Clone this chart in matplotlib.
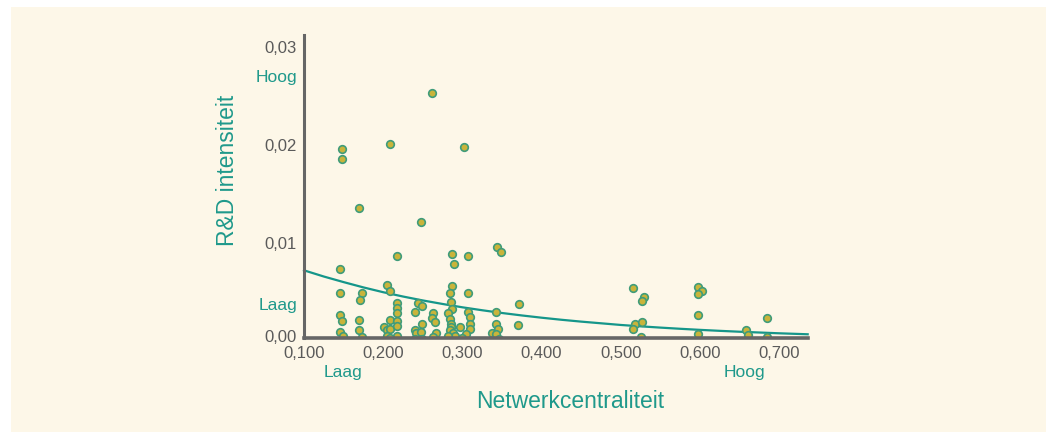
import matplotlib
matplotlib.use("Agg")
import matplotlib.pyplot as plt
from matplotlib.patches import Rectangle

# ---- data ----
centraliteit = [0.148, 0.148, 0.209, 0.262, 0.302, 0.169, 0.248, 0.218, 0.287, 0.289,
                0.307, 0.344, 0.349, 0.145, 0.146, 0.173, 0.171, 0.205, 0.209, 0.217,
                0.218, 0.217, 0.145, 0.148, 0.170, 0.145, 0.149, 0.169, 0.173, 0.201,
                0.205, 0.209, 0.208, 0.218, 0.217, 0.205, 0.218, 0.209, 0.287, 0.284,
                0.307, 0.244, 0.249, 0.240, 0.286, 0.287, 0.282, 0.263, 0.262, 0.265,
                0.307, 0.310, 0.310, 0.309, 0.305, 0.284, 0.285, 0.286, 0.284, 0.288,
                0.291, 0.297, 0.282, 0.249, 0.240, 0.242, 0.248, 0.267, 0.263, 0.240,
                0.249, 0.299, 0.342, 0.342, 0.345, 0.337, 0.343, 0.346, 0.371, 0.370,
                0.515, 0.529, 0.527, 0.518, 0.515, 0.527, 0.525, 0.598, 0.603, 0.598,
                0.598, 0.598, 0.658, 0.661, 0.684, 0.684]
rd_intensiteit = [0.0196, 0.0186, 0.0201, 0.0253, 0.0198, 0.0136, 0.0121, 0.0087, 0.0089, 0.0078,
                  0.0087, 0.0096, 0.0091, 0.0073, 0.0049, 0.0049, 0.0042, 0.0057, 0.0051, 0.0039,
                  0.0034, 0.0029, 0.0026, 0.0020, 0.0021, 0.0009, 0.0005, 0.0011, 0.0004, 0.0014,
                  0.0011, 0.0021, 0.0012, 0.0020, 0.0015, 0.0005, 0.0005, 0.0003, 0.0056, 0.0049,
                  0.0049, 0.0039, 0.0036, 0.0030, 0.0040, 0.0033, 0.0029, 0.0028, 0.0023, 0.0019,
                  0.0030, 0.0024, 0.0017, 0.0012, 0.0007, 0.0022, 0.0017, 0.0014, 0.0011, 0.0008,
                  0.0005, 0.0014, 0.0005, 0.0017, 0.0011, 0.0008, 0.0009, 0.0008, 0.0004, 0.0002,
                  0.0002, 0.0003, 0.0030, 0.0017, 0.0012, 0.0008, 0.0007, 0.0002, 0.0038, 0.0016,
                  0.0054, 0.0045, 0.0041, 0.0017, 0.0012, 0.0019, 0.0004, 0.0055, 0.0051, 0.0048,
                  0.0026, 0.0007, 0.0011, 0.0006, 0.0023, 0.0004]

trend_x = [0.100, 0.125, 0.150, 0.175, 0.200, 0.225, 0.250, 0.275, 0.300, 0.325,
           0.350, 0.375, 0.400, 0.425, 0.450, 0.475, 0.500, 0.525, 0.550, 0.575,
           0.600, 0.625, 0.650, 0.675, 0.700, 0.718, 0.736]
trend_y = [0.00720, 0.00657, 0.00600, 0.00546, 0.00497, 0.00453, 0.00413, 0.00377, 0.00343, 0.00313,
           0.00285, 0.00260, 0.00237, 0.00216, 0.00197, 0.00180, 0.00163, 0.00149, 0.00136, 0.00124,
           0.00113, 0.00103, 0.00094, 0.00086, 0.00078, 0.00073, 0.00068]

x_ticks = [0.1, 0.2, 0.3, 0.4, 0.5, 0.6, 0.7]
x_ticklabels = ["0,100", "0,200", "0,300", "0,400", "0,500", "0,600", "0,700"]
y_ticks = [0.01, 0.02, 0.03]
y_ticklabels = ["0,01", "0,02", "0,03"]

TEAL = "#1f998b"
GRAY = "#5a5a5a"
AXIS = "#666666"
CREAM = "#fdf7e8"

plt.rcParams["font.family"] = ["Liberation Sans", "DejaVu Sans"]

W, H, DPI = 1054, 438, 100
fig = plt.figure(figsize=(W / DPI, H / DPI), dpi=DPI, facecolor="white")
bg = fig.add_axes([0, 0, 1, 1], zorder=-10)
bg.set_axis_off()
bg.set_xlim(0, W)
bg.set_ylim(H, 0)
bg.add_patch(Rectangle((11, 7), 1046 - 11, 432 - 7, facecolor=CREAM, edgecolor="none"))

ax = fig.add_axes([304 / W, (H - 338) / H, (808 - 304) / W, (338 - 35) / H])
ax.set_facecolor("none")
ax.set_xlim(0.1, 0.7364)
ax.set_ylim(0.0003, 0.0312)

for s in ["top", "right"]:
    ax.spines[s].set_visible(False)
ax.spines["left"].set_color(AXIS)
ax.spines["left"].set_linewidth(2.2)
ax.spines["bottom"].set_color(AXIS)
ax.spines["bottom"].set_linewidth(2.6)
ax.spines["left"].set_zorder(5)
ax.spines["bottom"].set_zorder(5)

ax.set_xticks(x_ticks)
ax.set_xticklabels(x_ticklabels)
ax.set_yticks(y_ticks)
ax.set_yticklabels(y_ticklabels)
ax.tick_params(axis="both", length=0, labelsize=12, labelcolor=GRAY)
ax.tick_params(axis="x", pad=6)
ax.tick_params(axis="y", pad=5)

ax.annotate("0,00", xy=(0, 0.0), xycoords=("axes fraction", "data"),
            xytext=(-7, 3), textcoords="offset pixels", ha="right", va="center",
            fontsize=12, color=GRAY, annotation_clip=False)

ax.plot(trend_x, trend_y, color="#15968a", lw=1.6, zorder=2, clip_on=False)
ax.scatter(centraliteit, rd_intensiteit, s=30, facecolor="#c9b43a",
           edgecolor="#3f9c7a", linewidths=1.2, zorder=3)

# Hoog / Laag labels
ax.annotate("Hoog", xy=(0, 0.0269), xycoords=("axes fraction", "data"),
            xytext=(-7, 0), textcoords="offset pixels", ha="right", va="center",
            fontsize=12.5, color=TEAL, annotation_clip=False)
ax.annotate("Laag", xy=(0, 0.0036), xycoords=("axes fraction", "data"),
            xytext=(-7, 0), textcoords="offset pixels", ha="right", va="center",
            fontsize=12.5, color=TEAL, annotation_clip=False)
ax.annotate("Laag", xy=(0.149, 0), xycoords=("data", "axes fraction"),
            xytext=(0, -34), textcoords="offset pixels", ha="center", va="center",
            fontsize=12.5, color=TEAL, annotation_clip=False)
ax.annotate("Hoog", xy=(0.656, 0), xycoords=("data", "axes fraction"),
            xytext=(0, -34), textcoords="offset pixels", ha="center", va="center",
            fontsize=12.5, color=TEAL, annotation_clip=False)

fig.text(570 / W, 1 - 401 / H, "Netwerkcentraliteit", ha="center", va="center",
         fontsize=16.5, color=TEAL)
fig.text(228 / W, 1 - 170 / H, "R&D intensiteit", ha="center", va="center",
         rotation=90, fontsize=16.5, color=TEAL)

fig.savefig("out.png", dpi=DPI, facecolor="white")
